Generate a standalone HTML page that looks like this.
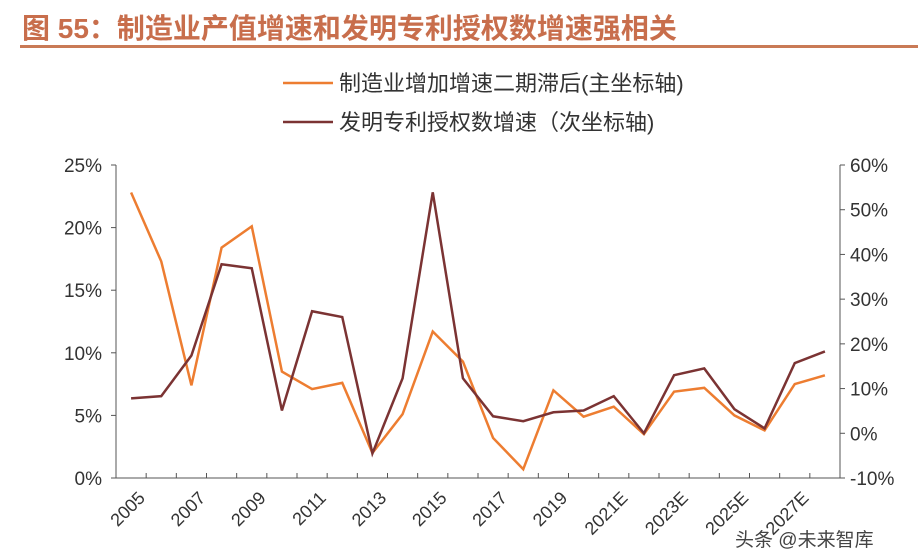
<!DOCTYPE html>
<html><head><meta charset="utf-8">
<style>
body{margin:0;width:918px;height:554px;background:#fff;overflow:hidden;font-family:"Liberation Sans","Noto Sans CJK SC",sans-serif;}
svg{display:block}
</style></head><body>
<svg id="chart" width="918" height="554">
<text x="22" y="38" font-size="28" font-weight="bold" fill="#c86e4c" font-family="Liberation Sans, Noto Sans CJK SC, sans-serif">图 55：制造业产值增速和发明专利授权数增速强相关</text>
<rect x="20" y="45" width="898" height="3" fill="#c97a56"/>
<g>
<line x1="283" y1="83" x2="333" y2="83" stroke="#ed7d31" stroke-width="2.5"/>
<text x="339" y="91" font-size="22" fill="#333">制造业增加增速二期滞后(主坐标轴)</text>
<line x1="283" y1="122" x2="333" y2="122" stroke="#7b3333" stroke-width="2.5"/>
<text x="339" y="130" font-size="22" fill="#333">发明专利授权数增速（次坐标轴)</text>
</g>
<g id="plot"></g>
<text x="735" y="546" font-size="19" fill="#444">头条 @未来智库</text>
</svg>
<script>
const categories=["2005","2006","2007","2008","2009","2010","2011","2012","2013","2014","2015","2016","2017","2018","2019","2020","2021E","2022E","2023E","2024E","2025E","2026E","2027E","2028E"];
const manufacturing=[22.8,17.3,7.4,18.4,20.1,8.5,7.1,7.6,2.0,5.1,11.7,9.3,3.2,0.7,7.0,4.9,5.7,3.5,6.9,7.2,5.0,3.8,7.5,8.2];
const patents=[7.8,8.3,17.4,37.8,36.9,5.1,27.3,26,-4.5,12.3,53.9,12.3,3.8,2.7,4.7,5.1,8.3,0,13,14.5,5.4,1.1,15.7,18.3];
const leftTicks=[0,5,10,15,20,25];
const rightTicks=[-10,0,10,20,30,40,50,60];
const NS="http://www.w3.org/2000/svg";
const g=document.getElementById('plot');
const X0=116,X1=840,Y0=478,Y1=165;
const bw=(X1-X0)/categories.length;
const xs=i=>X0+bw*(i+0.5);
const yl=v=>Y0-(v-0)/(25-0)*(Y0-Y1);
const yr=v=>Y0-(v+10)/(70)*(Y0-Y1);
function mk(t,a){const e=document.createElementNS(NS,t);for(const k in a)e.setAttribute(k,a[k]);g.appendChild(e);return e;}
let e;
e=mk('path',{d:`M${X0},${Y1}V${Y0}H${X1}V${Y1}`,fill:'none',stroke:'#555','stroke-width':1});


leftTicks.forEach(v=>{
 e=mk('line',{x1:X0-5,x2:X0,y1:yl(v),y2:yl(v),stroke:'#555'});
 
 
 e=mk('text',{x:X0-14,y:yl(v)+7,'font-size':19,fill:'#333','text-anchor':'end'});e.textContent=v+'%';
 
 
});
rightTicks.forEach(v=>{
 e=mk('line',{x1:X1,x2:X1+5,y1:yr(v),y2:yr(v),stroke:'#555'});
 
 
 e=mk('text',{x:X1+10,y:yr(v)+7,'font-size':19,fill:'#333'});e.textContent=v+'%';
 
 
});
categories.forEach((c,i)=>{
 if(i>0){e=mk('line',{x1:X0+bw*i,x2:X0+bw*i,y1:Y0,y2:Y0-5,stroke:'#555'});
 
 }
 if(i%2==0){
  const x=xs(i)+6,y=Y0+12;
  e=mk('text',{x:x,y:y,'font-size':18,fill:'#333','text-anchor':'end',transform:`rotate(-45 ${x} ${y})`,'dominant-baseline':'hanging'});e.textContent=c;
  
  
 }
});
e=mk('polyline',{points:manufacturing.map((v,i)=>xs(i)+','+yl(v)).join(' '),fill:'none',stroke:'#ed7d31','stroke-width':2.5});


e=mk('polyline',{points:patents.map((v,i)=>xs(i)+','+yr(v)).join(' '),fill:'none',stroke:'#7b3333','stroke-width':2.5});


</script>
</body></html>
